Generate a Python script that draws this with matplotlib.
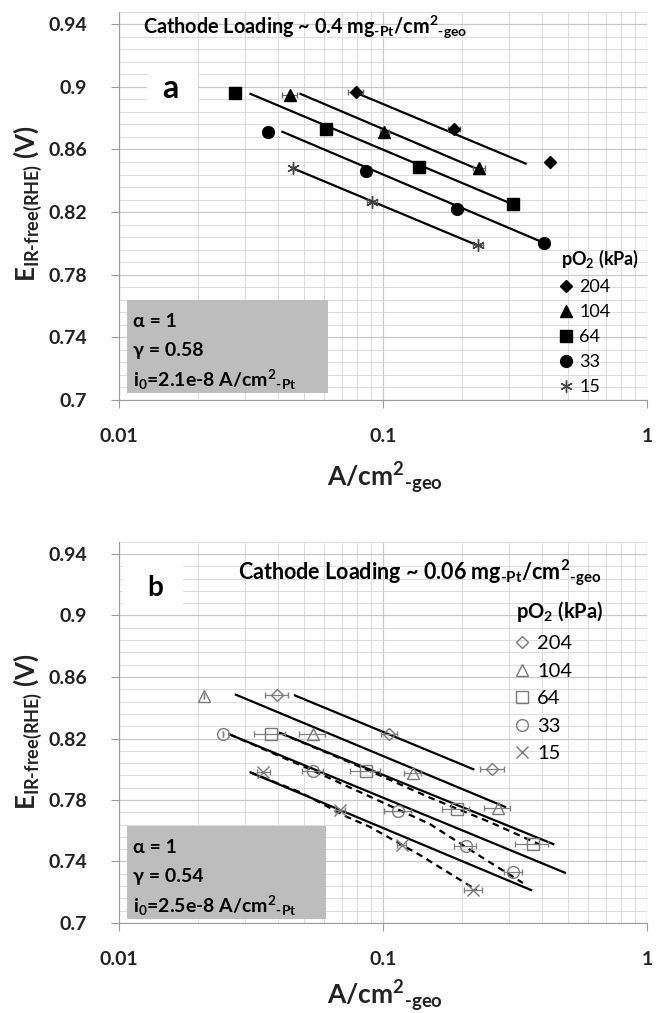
import matplotlib
matplotlib.use('Agg')
import matplotlib.pyplot as plt
from matplotlib.patches import Rectangle

plt.rcParams['font.family'] = ['Lato', 'DejaVu Sans']
plt.rcParams['mathtext.fontset'] = 'custom'
plt.rcParams['mathtext.rm'] = 'Lato:bold'
plt.rcParams['mathtext.it'] = 'Lato:bold'
plt.rcParams['mathtext.bf'] = 'Lato:bold'

pO2 = ['204', '104', '64', '33', '15']

# ---- panel a: 0.4 mg Pt/cm2 ----
a_i_204 = [0.0788, 0.186, 0.428]
a_E_204 = [0.897, 0.873, 0.852]
a_err_204 = [0.005, 0.01, 0.0]
a_i_104 = [0.0443, 0.101, 0.232]
a_E_104 = [0.895, 0.871, 0.848]
a_err_104 = [0.003, 0.004, 0.012]
a_i_64 = [0.0275, 0.061, 0.137, 0.311]
a_E_64 = [0.896, 0.873, 0.849, 0.825]
a_err_64 = [0.0, 0.003, 0.004, 0.0]
a_i_33 = [0.0367, 0.0865, 0.191, 0.407]
a_E_33 = [0.871, 0.846, 0.822, 0.800]
a_err_33 = [0.0, 0.003, 0.006, 0.0]
a_i_15 = [0.0456, 0.0911, 0.230]
a_E_15 = [0.848, 0.8265, 0.799]
a_err_15 = [0.0, 0.004, 0.01]

# model lines (end points)
a_fit_i = [[0.0783, 0.347], [0.0487, 0.224], [0.0315, 0.305], [0.0416, 0.395], [0.0456, 0.23]]
a_fit_E = [[0.8965, 0.851], [0.8955, 0.848], [0.8955, 0.8255], [0.8713, 0.8013], [0.848, 0.7985]]

# ---- panel b: 0.06 mg Pt/cm2 ----
b_i_204 = [0.0398, 0.1057, 0.2596]
b_E_204 = [0.848, 0.8227, 0.800]
b_err_204 = [0.004, 0.007, 0.027]
b_i_104 = [0.0209, 0.0542, 0.1296, 0.272]
b_E_104 = [0.8474, 0.8227, 0.7976, 0.7749]
b_err_104 = [0.0, 0.006, 0.0095, 0.03]
b_i_64 = [0.0375, 0.0862, 0.19, 0.369]
b_E_64 = [0.8227, 0.7989, 0.774, 0.7511]
b_err_64 = [0.005, 0.0115, 0.022, 0.053]
b_i_33 = [0.0248, 0.0542, 0.1143, 0.2057, 0.3117]
b_E_33 = [0.8227, 0.7989, 0.7727, 0.7502, 0.733]
b_err_33 = [0.0, 0.005, 0.013, 0.02, 0.025]
b_i_15 = [0.0352, 0.0687, 0.1177, 0.22]
b_E_15 = [0.798, 0.7734, 0.7506, 0.7214]
b_err_15 = [0.002, 0.003, 0.005, 0.017]

b_fit_i = [[0.0464, 0.22], [0.0277, 0.29], [0.0407, 0.4418], [0.0262, 0.489], [0.0315, 0.364]]
b_fit_E = [[0.848, 0.800], [0.8485, 0.7755], [0.8236, 0.7513], [0.8227, 0.7327], [0.7979, 0.7214]]

# dashed model curves for 64, 33, 15 kPa
b_dash_i = [[0.0407, 0.0862, 0.1507, 0.2543, 0.393],
            [0.0262, 0.0538, 0.0974, 0.1507, 0.2331, 0.339],
            [0.0315, 0.0485, 0.0731, 0.0893, 0.138, 0.2264]]
b_dash_E = [[0.8236, 0.8000, 0.7815, 0.7656, 0.751],
            [0.8227, 0.7994, 0.7792, 0.7643, 0.7435, 0.726],
            [0.7979, 0.7851, 0.769, 0.7625, 0.7442, 0.7214]]

y_ticks = [0.7, 0.74, 0.78, 0.82, 0.86, 0.9, 0.94]
y_labels = ['0.7', '0.74', '0.78', '0.82', '0.86', '0.9', '0.94']
x_ticks = [0.01, 0.1, 1]
x_labels = ['0.01', '0.1', '1']

fig = plt.figure(figsize=(6.56, 10.13), dpi=100)
W, H = 656, 1013
ax_a = fig.add_axes([119 / W, 1 - 400 / H, 528 / W, 388.3 / H])
ax_b = fig.add_axes([119 / W, 1 - 923 / H, 528 / W, 381.3 / H])


def style_axes(ax):
    ax.set_xscale('log')
    ax.set_xlim(0.01, 1)
    ax.set_ylim(0.7, 0.948)
    ax.set_yticks(y_ticks)
    ax.set_yticklabels(y_labels)
    ax.set_yticks([0.7 + 0.008 * k for k in range(32)], minor=True)
    ax.set_xticks(x_ticks)
    ax.set_xticklabels(x_labels)
    ax.grid(which='major', color='#c8c8c8', lw=0.9)
    ax.grid(which='minor', color='#dcdcdc', lw=0.7)
    ax.set_axisbelow(True)
    for s in ['top', 'right']:
        ax.spines[s].set_visible(False)
    for s in ['left', 'bottom']:
        ax.spines[s].set_color('#9a9a9a')
    ax.tick_params(which='major', length=6, color='#9a9a9a', labelsize=14,
                   labelcolor='#222222')
    ax.tick_params(axis='y', pad=17)
    ax.tick_params(axis='x', pad=14)
    ax.tick_params(which='minor', length=0)
    for lab in ax.get_xticklabels() + ax.get_yticklabels():
        lab.set_fontweight('bold')


style_axes(ax_a)
style_axes(ax_b)

# ---- panel a drawing ----
a_i = [a_i_204, a_i_104, a_i_64, a_i_33, a_i_15]
a_E = [a_E_204, a_E_104, a_E_64, a_E_33, a_E_15]
a_err = [a_err_204, a_err_104, a_err_64, a_err_33, a_err_15]
a_markers = ['D', '^', 's', 'o', (6, 2, 0)]
a_ms = [6, 8.5, 8.5, 8.5, 9]
a_col = ['black', 'black', 'black', 'black', '#444444']

for fx, fy in zip(a_fit_i, a_fit_E):
    ax_a.plot(fx, fy, color='black', lw=1.6, zorder=3)
for x, y, e, m, ms, c, lab in zip(a_i, a_E, a_err, a_markers, a_ms, a_col, pO2):
    ax_a.errorbar(x, y, xerr=e, fmt='none', ecolor='#666666', elinewidth=0.8,
                  capsize=2, zorder=3)
    ax_a.plot(x, y, ls='none', marker=m, ms=ms, color=c, mec=c, mew=1.0,
              label=lab, zorder=4)

ax_a.legend(title=r'pO$_2$ (kPa)', loc='upper left',
            bbox_to_anchor=(0.82, 0.415), frameon=False, fontsize=13,
            handlelength=0.6, handletextpad=0.4, labelspacing=0.5,
            borderpad=0.0, alignment='left',
            title_fontproperties={'weight': 'bold', 'size': 13})

ax_a.add_patch(Rectangle((0.0146, 0.0173), 0.381, 0.240, transform=ax_a.transAxes,
                         facecolor='#bdbdbd', edgecolor='none', zorder=5))
ax_a.text(0.027, 0.2016, 'α = 1', transform=ax_a.transAxes, fontsize=14,
          fontweight='bold', va='center', zorder=6)
ax_a.text(0.027, 0.127, 'γ = 0.58', transform=ax_a.transAxes, fontsize=14,
          fontweight='bold', va='center', zorder=6)
ax_a.text(0.027, 0.0515, r'i$_0$=2.1e-8 A/cm$^2{}_{\text{-Pt}}$', transform=ax_a.transAxes,
          fontsize=14, fontweight='bold', va='center', zorder=6)

ax_a.text(0.0455, 0.9606, r'Cathode Loading ~ 0.4 mg$_{\text{-Pt}}$/cm$^2{}_{\text{-geo}}$',
          transform=ax_a.transAxes, fontsize=14.3, fontweight='bold', va='center', zorder=6)
ax_a.add_patch(Rectangle((0.0525, 0.7417), 0.0977, 0.126, transform=ax_a.transAxes,
                         facecolor='white', edgecolor='none', zorder=2))
ax_a.text(0.0966, 0.8035, 'a', transform=ax_a.transAxes, fontsize=23,
          fontweight='bold', ha='center', va='center', zorder=6)

# ---- panel b drawing ----
b_i = [b_i_204, b_i_104, b_i_64, b_i_33, b_i_15]
b_E = [b_E_204, b_E_104, b_E_64, b_E_33, b_E_15]
b_err = [b_err_204, b_err_104, b_err_64, b_err_33, b_err_15]
b_markers = ['D', '^', 's', 'o', 'x']
b_ms = [6, 8, 8.5, 8.5, 8.5]

for fx, fy in zip(b_fit_i, b_fit_E):
    ax_b.plot(fx, fy, color='black', lw=1.6, zorder=3)
for dx, dy in zip(b_dash_i, b_dash_E):
    ax_b.plot(dx, dy, color='black', lw=1.6, ls=(0, (3, 2.2)), zorder=3)
for x, y, e, m, ms, lab in zip(b_i, b_E, b_err, b_markers, b_ms, pO2):
    ax_b.errorbar(x, y, xerr=e, fmt='none', ecolor='#808080', elinewidth=0.9,
                  capsize=2.5, zorder=3)
    ax_b.plot(x, y, ls='none', marker=m, ms=ms, mfc='none', mec='#7a7a7a',
              mew=1.0, label=lab, zorder=4)

ax_b.legend(title=r'pO$_2$ (kPa)', loc='upper left',
            bbox_to_anchor=(0.733, 0.875), frameon=False, fontsize=14.5,
            handlelength=0.6, handletextpad=0.45, labelspacing=0.52,
            borderpad=0.0, alignment='left',
            title_fontproperties={'weight': 'bold', 'size': 14.5})

ax_b.add_patch(Rectangle((0.0146, 0.0105), 0.3775, 0.2435, transform=ax_b.transAxes,
                         facecolor='#bdbdbd', edgecolor='none', zorder=5))
ax_b.text(0.027, 0.198, 'α = 1', transform=ax_b.transAxes, fontsize=14,
          fontweight='bold', va='center', zorder=6)
ax_b.text(0.027, 0.122, 'γ = 0.54', transform=ax_b.transAxes, fontsize=14,
          fontweight='bold', va='center', zorder=6)
ax_b.text(0.027, 0.046, r'i$_0$=2.5e-8 A/cm$^2{}_{\text{-Pt}}$', transform=ax_b.transAxes,
          fontsize=14, fontweight='bold', va='center', zorder=6)

ax_b.text(0.2254, 0.918, r'Cathode Loading ~ 0.06 mg$_{\text{-Pt}}$/cm$^2{}_{\text{-geo}}$',
          transform=ax_b.transAxes, fontsize=15.5, fontweight='bold', va='center', zorder=6)
ax_b.add_patch(Rectangle((0.0076, 0.8287), 0.1136, 0.11, transform=ax_b.transAxes,
                         facecolor='white', edgecolor='none', zorder=2))
ax_b.text(0.068, 0.8786, 'b', transform=ax_b.transAxes, fontsize=20,
          fontweight='bold', ha='center', va='center', zorder=6)

# axis titles
ylab = r'E$_{\text{IR-free(RHE)}}$ (V)'
xlab = r'A/cm$^2{}_{\text{-geo}}$'
fig.text(28 / W, 1 - 204 / H, ylab, rotation=90, ha='center', va='center',
         fontsize=18.5, fontweight='bold', color='#222222')
fig.text(28 / W, 1 - 732 / H, ylab, rotation=90, ha='center', va='center',
         fontsize=18.5, fontweight='bold', color='#222222')
fig.text(385 / W, 1 - 478 / H, xlab, ha='center', va='center',
         fontsize=19, fontweight='bold', color='#222222')
fig.text(385 / W, 1 - 996 / H, xlab, ha='center', va='center',
         fontsize=19, fontweight='bold', color='#222222')

fig.savefig('out.png', dpi=100)
